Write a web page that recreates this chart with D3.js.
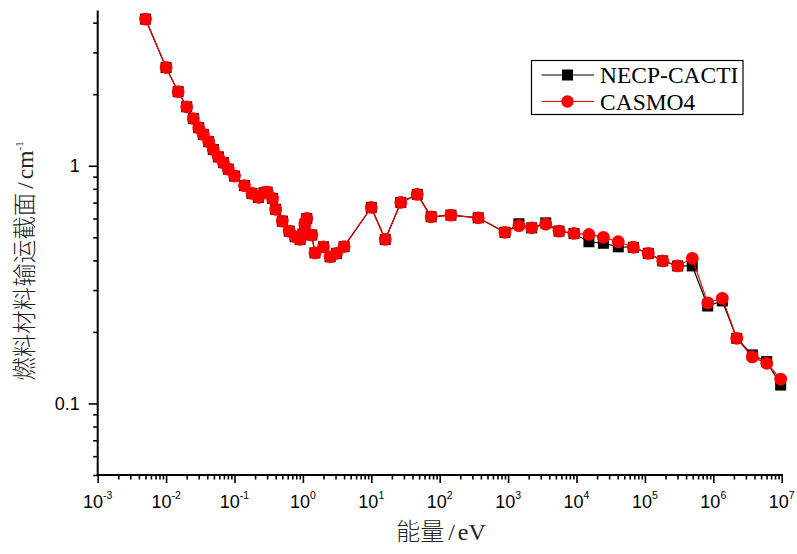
<!DOCTYPE html>
<html>
<head>
<meta charset="utf-8">
<script src="https://cdn.jsdelivr.net/npm/d3@7"></script>
<style>
  body { margin: 0; background: #fff; }
</style>
</head>
<body>
<div id="chart"></div>
<script>
// energies (eV), shared by both series
var energy = [0.005, 0.01, 0.015, 0.02, 0.025, 0.03, 0.035, 0.042, 0.049, 0.058,
  0.069, 0.081, 0.1, 0.14, 0.18, 0.223, 0.27, 0.3, 0.36, 0.40,
  0.5, 0.63, 0.77, 0.91, 1.0, 1.07, 1.14, 1.35, 1.5, 2.0,
  2.5, 3.1, 4.0, 10, 16, 27, 47, 75, 146, 366,
  900, 1440, 2210, 3550, 5550, 9190, 15200, 24700, 40800, 67700,
  112000, 182000, 302000, 493000, 828000, 1355000, 2200000, 3720000, 6040000, 9660000];

var necp = [4.14, 2.59, 2.05, 1.77, 1.58, 1.445, 1.355, 1.262, 1.17, 1.09,
  1.03, 0.968, 0.905, 0.825, 0.765, 0.736, 0.77, 0.775, 0.729, 0.656,
  0.585, 0.531, 0.503, 0.49, 0.516, 0.568, 0.60, 0.511, 0.43, 0.456,
  0.414, 0.428, 0.457, 0.668, 0.49, 0.701, 0.758, 0.61, 0.62, 0.604,
  0.525, 0.57, 0.548, 0.575, 0.531, 0.519, 0.479, 0.472, 0.456, 0.454,
  0.428, 0.398, 0.379, 0.379, 0.257, 0.270, 0.188, 0.160, 0.150, 0.1195];

var casmo = [4.14, 2.59, 2.05, 1.77, 1.58, 1.445, 1.355, 1.262, 1.17, 1.09,
  1.03, 0.968, 0.905, 0.825, 0.765, 0.736, 0.77, 0.775, 0.729, 0.656,
  0.585, 0.531, 0.503, 0.49, 0.516, 0.568, 0.60, 0.511, 0.43, 0.456,
  0.414, 0.428, 0.457, 0.668, 0.49, 0.701, 0.758, 0.61, 0.62, 0.604,
  0.525, 0.56, 0.548, 0.568, 0.531, 0.519, 0.514, 0.50, 0.479, 0.454,
  0.428, 0.398, 0.379, 0.408, 0.265, 0.277, 0.188, 0.157, 0.1475, 0.1266];

var seriesNames = ["NECP-CACTI", "CASMO4"];

var xMajor = [1e-3, 1e-2, 1e-1, 1e0, 1e1, 1e2, 1e3, 1e4, 1e5, 1e6, 1e7];
var xExp = ["-3", "-2", "-1", "0", "1", "2", "3", "4", "5", "6", "7"];
var yMajor = [0.1, 1];
var yMajorLabels = ["0.1", "1"];
var yMinor = [0.05, 0.06, 0.07, 0.08, 0.09, 0.2, 0.3, 0.4, 0.5, 0.6, 0.7, 0.8, 0.9, 2, 3, 4];

var xTitle = ["能量", "/", "eV"];
var yTitle = ["燃料材料输运截面", "/", "cm", "-1"];

// minor x ticks: 2..9 in every decade
var xMinor = [];
for (var d = -3; d < 7; d++) {
  for (var k = 2; k <= 9; k++) xMinor.push(k * Math.pow(10, d));
}

var W = 797, H = 554;

var svg = d3.select("#chart")
  .append("svg")
    .attr("width", W)
    .attr("height", H);

var x = d3.scaleLog().domain([1e-3, 1e7]).range([97.7, 781.7]);
var y = d3.scaleLog().domain([0.05, 4.5]).range([475, 10.5]);

var sansFont = "'Liberation Sans', Arial, sans-serif";
var serifFont = "'Liberation Serif', 'Times New Roman', serif";
var cjkFont = "'Liberation Serif', 'Noto Sans CJK SC', serif";

// X axis - minor ticks then major ticks
svg.append("g")
  .attr("transform", "translate(0,475)")
  .call(d3.axisBottom(x).tickValues(xMinor).tickSize(4.5).tickSizeOuter(0).tickFormat(""))
  .call(function (g) { g.select(".domain").remove(); });

var xAx = svg.append("g")
  .attr("transform", "translate(0,475)")
  .call(d3.axisBottom(x).tickValues(xMajor).tickSize(8).tickSizeOuter(0).tickFormat(""));
xAx.select(".domain").attr("stroke-width", 2).attr("d", "M96.7,0H783");

// x tick labels with superscript
svg.append("g")
  .selectAll("text")
  .data(xMajor)
  .enter()
  .append("text")
    .attr("x", function (v) { return x(v); })
    .attr("y", 508)
    .attr("text-anchor", "middle")
    .style("font-family", sansFont)
    .style("font-size", "18px")
    .each(function (v, i) {
      var t = d3.select(this);
      t.append("tspan").text("10");
      t.append("tspan").attr("dy", -9).style("font-size", "10.5px").text(xExp[i]);
    });

// Y axis - minor ticks then major ticks
svg.append("g")
  .attr("transform", "translate(97.7,0)")
  .call(d3.axisLeft(y).tickValues(yMinor).tickSize(4.5).tickSizeOuter(0).tickFormat(""))
  .call(function (g) { g.select(".domain").remove(); });

var yAx = svg.append("g")
  .attr("transform", "translate(97.7,0)")
  .call(d3.axisLeft(y).tickValues(yMajor).tickSize(9).tickPadding(9).tickSizeOuter(0)
    .tickFormat(function (v, i) { return yMajorLabels[i]; }));
yAx.select(".domain").attr("stroke-width", 2).attr("d", "M0,476H0V10.5");
yAx.selectAll("text")
  .style("font-family", sansFont)
  .style("font-size", "18px")
  .attr("fill", "#000");

svg.selectAll(".tick line").attr("stroke", "#000").attr("stroke-width", 1.6);

// axis titles
var xt = svg.append("text")
  .attr("x", 441)
  .attr("y", 540)
  .attr("text-anchor", "middle")
  .style("font-family", cjkFont)
  .style("font-size", "24px")
  .style("font-weight", 300)
  .attr("fill", "#222");
xt.append("tspan").text(xTitle[0]);
xt.append("tspan").attr("dx", 4).text(xTitle[1]);
xt.append("tspan").attr("dx", 3).text(xTitle[2]);

var yt = svg.append("text")
  .attr("text-anchor", "middle")
  .attr("transform", "translate(33,261)rotate(-90)")
  .style("font-family", cjkFont)
  .style("font-size", "23.5px")
  .style("font-weight", 300)
  .attr("fill", "#222");
yt.append("tspan").text(yTitle[0]);
yt.append("tspan").attr("dx", 4).text(yTitle[1]);
yt.append("tspan").attr("dx", 3).text(yTitle[2]);
yt.append("tspan").attr("dy", -10).style("font-size", "11px").text(yTitle[3]);

// series data
var dataNecp = energy.map(function (e, i) { return [e, necp[i]]; });
var dataCasmo = energy.map(function (e, i) { return [e, casmo[i]]; });

var line = d3.line()
  .x(function (d) { return x(d[0]); })
  .y(function (d) { return y(d[1]); });

// NECP-CACTI: black line + squares
svg.append("path")
  .datum(dataNecp)
  .attr("d", line)
  .style("fill", "none")
  .style("stroke", "#000")
  .style("stroke-width", 1.2);

svg.append("g")
  .selectAll("rect")
  .data(dataNecp)
  .enter()
  .append("rect")
    .attr("x", function (d) { return x(d[0]) - 5.5; })
    .attr("y", function (d) { return y(d[1]) - 5.5; })
    .attr("width", 11)
    .attr("height", 11)
    .style("fill", "#000");

// CASMO4: red line + circles
svg.append("path")
  .datum(dataCasmo)
  .attr("d", line)
  .style("fill", "none")
  .style("stroke", "#e00000")
  .style("stroke-width", 1.2);

svg.append("g")
  .selectAll("circle")
  .data(dataCasmo)
  .enter()
  .append("circle")
    .attr("cx", function (d) { return x(d[0]); })
    .attr("cy", function (d) { return y(d[1]); })
    .attr("r", 6.4)
    .style("fill", "#ff0000");

// legend
var lg = svg.append("g");
lg.append("rect")
  .attr("x", 531.5)
  .attr("y", 60.5)
  .attr("width", 211.5)
  .attr("height", 54)
  .style("fill", "#fff")
  .style("stroke", "#000")
  .style("stroke-width", 1.2);

var rowsY = [75, 101.5];
seriesNames.forEach(function (name, i) {
  var col = i === 0 ? "#000" : "#ff0000";
  lg.append("line")
    .attr("x1", 541.5).attr("x2", 594)
    .attr("y1", rowsY[i]).attr("y2", rowsY[i])
    .style("stroke", i === 0 ? "#000" : "#e00000")
    .style("stroke-width", 1.2);
  if (i === 0) {
    lg.append("rect")
      .attr("x", 567.5 - 5.5).attr("y", rowsY[i] - 5.5)
      .attr("width", 11).attr("height", 11)
      .style("fill", col);
  } else {
    lg.append("circle")
      .attr("cx", 567.5).attr("cy", rowsY[i])
      .attr("r", 6.2)
      .style("fill", col);
  }
  lg.append("text")
    .attr("x", 600)
    .attr("y", rowsY[i] + 8)
    .style("font-family", serifFont)
    .style("font-size", "23.5px")
    .text(name);
});
</script>
</body>
</html>
